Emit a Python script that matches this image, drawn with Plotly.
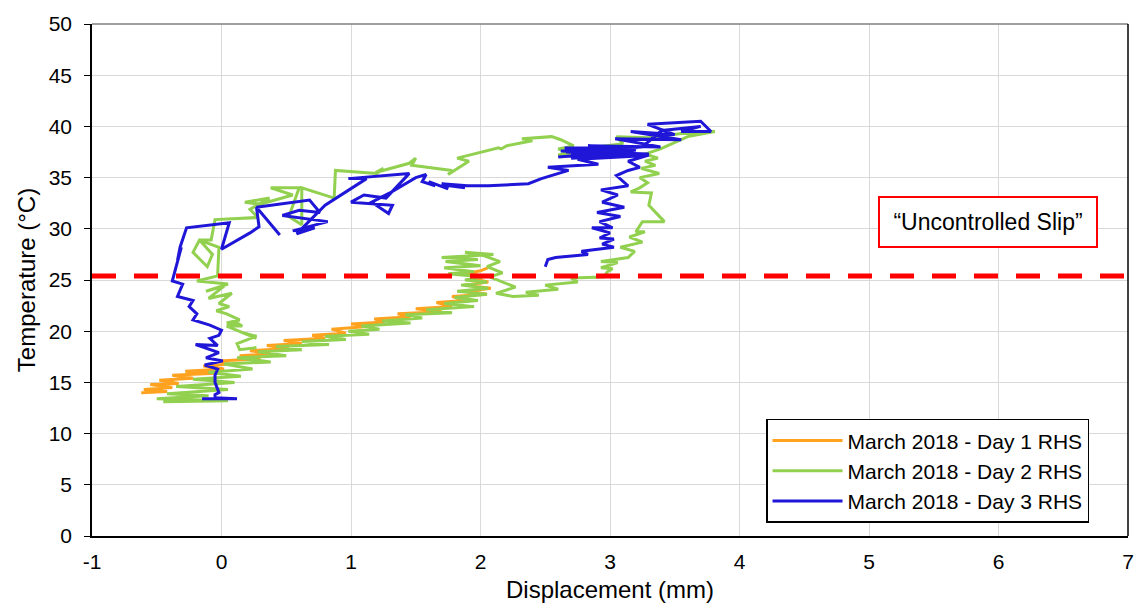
import plotly.graph_objects as go

# Day 1 RHS: displacement (mm) and temperature (°C) readings
day1_disp = [-0.62, -0.42, -0.60, -0.38, -0.55, -0.33, -0.48, -0.22, -0.38, -0.05,
             -0.28, 0.02, -0.14, 0.06, -0.02, 0.30, 0.14, 0.38, 0.22, 0.52,
             0.35, 0.62, 0.48, 0.80, 0.70, 0.96, 0.85, 1.18, 1.00, 1.26,
             1.18, 1.46, 1.36, 1.70, 1.50, 1.78, 1.66, 1.88, 1.78, 2.05,
             1.90, 2.08, 1.88, 2.06, 1.92, 2.03, 1.88, 2.00, 2.06]
day1_temp = [14.0, 14.1, 14.3, 14.5, 14.8, 14.9, 15.2, 15.4, 15.7, 15.9,
             16.1, 16.3, 16.6, 16.8, 17.1, 17.3, 17.6, 17.8, 18.1, 18.3,
             18.6, 18.8, 19.1, 19.3, 19.6, 19.8, 20.2, 20.5, 20.7, 20.9,
             21.2, 21.4, 21.7, 21.9, 22.2, 22.4, 22.8, 23.0, 23.4, 23.6,
             23.9, 24.2, 24.5, 24.8, 25.2, 25.4, 25.6, 25.9, 26.2]

# Day 2 RHS
day2_disp = [-0.45, 0.05, -0.50, -0.10, -0.42, 0.05, -0.35, 0.10, -0.22, 0.15,
             -0.10, 0.24, 0.02, 0.38, 0.12, 0.50, 0.28, 0.62, 0.42, 0.83,
             0.62, 0.96, 0.80, 1.14, 0.98, 1.22, 1.08, 1.46, 1.24, 1.55,
             1.42, 1.78, 1.58, 1.95, 1.72, 1.98, 1.80, 2.05, 1.82, 2.06,
             1.85, 2.05, 1.88, 2.02, 1.75, 1.95, 1.72, 2.00, 1.73, 1.98,
             1.70, 2.10, 1.88, 2.02, 2.15, 2.05, 2.17, 2.07, 2.27, 2.12,
             2.25, 2.45, 2.35, 2.60, 2.50, 2.75, 2.70, 2.95, 2.98, 3.02,
             2.93, 3.06, 2.93, 3.14, 3.19, 3.08, 3.25, 3.15, 3.27, 3.20,
             3.25, 3.42, 3.30, 3.32, 3.16, 3.23, 3.29, 3.23, 3.38, 3.24,
             3.35, 3.27, 3.37, 3.27, 3.39, 3.50, 3.60, 3.81, 3.55, 3.30,
             3.05, 3.10, 2.90, 2.75, 2.60, 2.75, 2.60, 2.72, 2.62, 2.55,
             2.32, 2.40, 2.20, 2.16, 2.14, 1.82, 1.91, 1.75, 1.78, 1.47,
             1.50, 1.45, 1.19, 1.25, 1.20, 0.88, 0.87, 0.62, 0.62, 0.52,
             0.60, 0.38, 0.55, 0.30, 0.18, 0.37, 0.22, 0.28, -0.05, -0.08,
             -0.17, -0.22, -0.11, -0.07, -0.17, -0.02, -0.03, -0.19, 0.05, -0.12,
             0.02, -0.10, 0.08, -0.02, 0.06, -0.04, 0.04, 0.14, 0.04, 0.12,
             0.16, 0.04, 0.27, 0.18, 0.27, 0.12, 0.14, 0.27]
day2_temp = [13.1, 13.2, 13.4, 13.7, 13.9, 14.3, 14.6, 15.0, 15.3, 15.6,
             16.0, 16.3, 16.8, 17.0, 17.4, 17.6, 18.0, 18.2, 18.5, 18.7,
             19.0, 19.2, 19.5, 19.7, 20.0, 20.2, 20.5, 20.8, 21.0, 21.3,
             21.6, 21.8, 22.1, 22.4, 22.7, 23.0, 23.3, 23.6, 23.9, 24.2,
             24.5, 24.8, 25.0, 25.3, 25.6, 25.8, 26.2, 26.4, 26.8, 27.0,
             27.2, 27.5, 27.7, 27.4, 26.8, 26.3, 25.7, 25.3, 24.3, 23.7,
             23.4, 23.5, 23.8, 24.1, 24.5, 24.8, 25.2, 25.3, 25.8, 26.1,
             26.2, 26.7, 26.8, 27.2, 27.8, 28.2, 28.7, 29.2, 29.7, 29.7,
             30.7, 30.7, 32.3, 33.5, 33.6, 34.0, 34.5, 35.0, 35.4, 35.9,
             36.2, 36.6, 36.9, 37.3, 37.8, 38.4, 39.0, 39.5, 39.3, 38.9,
             39.0, 38.3, 38.0, 37.6, 37.2, 37.1, 37.8, 38.1, 38.7, 39.0,
             38.8, 38.6, 38.1, 37.8, 37.9, 36.9, 36.6, 35.3, 35.7, 36.2,
             36.9, 36.4, 35.5, 35.9, 35.4, 35.7, 33.0, 34.0, 30.4, 31.2,
             34.0, 34.0, 33.3, 32.4, 32.6, 33.0, 31.9, 31.1, 30.9, 28.9,
             28.9, 27.7, 26.3, 27.5, 28.9, 28.2, 25.4, 24.9, 24.6, 23.9,
             24.4, 23.2, 23.7, 22.7, 22.4, 22.0, 21.7, 21.1, 20.8, 20.8,
             20.5, 20.5, 19.3, 19.8, 19.5, 18.8, 18.2, 18.4]

# Day 3 RHS
day3_disp = [-0.15, 0.12, -0.05, -0.05, -0.02, -0.05, -0.05, -0.03, -0.13, 0.01,
             -0.12, -0.02, -0.20, -0.03, -0.09, -0.02, 0.00, -0.09, -0.22, -0.19,
             -0.25, -0.22, -0.34, -0.30, -0.38, -0.31, -0.34, -0.32, -0.27, 0.06,
             0.00, 0.22, 0.29, 0.27, 0.45, 0.27, 0.68, 0.76, 0.60, 0.47,
             0.82, 0.55, 0.72, 0.58, 0.80, 1.12, 0.98, 1.45, 1.42, 1.27,
             1.10, 1.00, 1.32, 1.29, 1.16, 1.30, 1.50, 1.58, 1.55, 1.65,
             1.60, 1.75, 1.70, 1.88, 1.70, 1.90, 2.06, 2.37, 2.47, 2.68,
             2.52, 2.91, 2.75, 3.22, 2.70, 3.19, 2.60, 3.10, 2.65, 3.25,
             2.70, 3.30, 2.62, 3.20, 2.75, 3.28, 2.66, 3.15,
             2.83, 3.39, 3.04, 3.55, 3.16, 3.50, 3.29, 3.70, 3.78, 3.55,
             3.70, 3.40, 3.25, 2.95, 3.30, 3.14, 3.23, 3.14, 3.05, 3.14,
             2.93, 3.06, 2.94, 3.11, 2.90, 3.08, 2.92, 3.02, 2.86, 3.00,
             2.92, 3.03, 2.94, 3.03, 2.78, 2.83, 2.58, 2.52, 2.50]
day3_temp = [13.4, 13.4, 13.5, 13.8, 14.0, 15.0, 15.7, 16.3, 16.7, 17.1,
             17.4, 17.9, 18.7, 18.6, 19.3, 19.6, 20.1, 20.6, 21.1, 21.7,
             22.4, 23.0, 23.4, 24.6, 24.9, 28.2, 26.9, 28.2, 30.1, 30.6,
             28.0, 29.6, 30.2, 32.1, 29.4, 32.1, 32.8, 31.6, 31.8, 31.3,
             30.7, 29.8, 30.1, 29.5, 32.3, 34.9, 34.9, 35.4, 35.0, 33.0,
             33.3, 32.6, 32.3, 31.5, 32.6, 33.5, 35.0, 35.3, 34.6, 34.2,
             34.6, 33.9, 34.3, 34.0, 34.4, 34.2, 34.2, 34.4, 34.9, 35.7,
             36.0, 36.3, 36.8, 37.1, 37.4, 37.8, 37.0, 37.5, 37.9, 38.0,
             36.9, 37.3, 37.6, 37.7, 36.8, 37.2, 37.5, 37.8,
             38.1, 38.0, 38.8, 38.7, 39.5, 39.2, 40.2, 40.5, 39.5, 39.5,
             40.0, 39.6, 38.0, 37.5, 37.2, 36.6, 36.0, 35.7, 35.2, 34.2,
             33.8, 33.3, 32.6, 32.1, 31.6, 31.2, 30.7, 30.1, 30.1, 29.6,
             29.1, 29.0, 28.5, 28.2, 27.8, 27.5, 27.2, 27.0, 26.3]

series_names = ["March 2018 - Day 1 RHS", "March 2018 - Day 2 RHS", "March 2018 - Day 3 RHS"]
series_colors = ["#FFA21F", "#92D050", "#1F16D8"]

slip_temp = 25.4
slip_label = "“Uncontrolled Slip”"

x_ticks = [-1, 0, 1, 2, 3, 4, 5, 6, 7]
x_tick_text = ["-1", "0", "1", "2", "3", "4", "5", "6", "7"]
y_ticks = [0, 5, 10, 15, 20, 25, 30, 35, 40, 45, 50]

FONT = "Liberation Sans, Arial, sans-serif"

fig = go.Figure()
for xs, ys, name, color in zip([day1_disp, day2_disp, day3_disp],
                               [day1_temp, day2_temp, day3_temp],
                               series_names, series_colors):
    fig.add_trace(go.Scatter(
        x=xs, y=ys, mode="lines", name=name,
        line=dict(color=color, width=3),
    ))

# slip threshold
fig.add_shape(type="line", xref="x", yref="y", x0=x_ticks[0], x1=x_ticks[-1],
              y0=slip_temp, y1=slip_temp,
              line=dict(color="#FF0000", width=5, dash="24px,18px"), layer="above")

# plot frame: top and right edges
fig.add_shape(type="line", xref="paper", yref="paper", x0=0, x1=1, y0=1, y1=1,
              line=dict(color="#7f7f7f", width=1.5))
fig.add_shape(type="line", xref="paper", yref="paper", x0=1, x1=1, y0=0, y1=1,
              line=dict(color="#000000", width=1.5))

fig.add_annotation(x=5.92, y=30.7, xref="x", yref="y", text=slip_label,
                   showarrow=False, font=dict(family=FONT, size=23, color="#000000"),
                   bgcolor="#FFFFFF", bordercolor="#FF0000", borderwidth=2,
                   borderpad=5, width=206, height=38)

fig.update_layout(
    width=1146, height=611,
    margin=dict(l=92, r=18, t=16, b=75),
    paper_bgcolor="#FFFFFF", plot_bgcolor="#FFFFFF",
    font=dict(family=FONT, size=21, color="#000000"),
    legend=dict(
        x=0.6506, y=0.229, xanchor="left", yanchor="top",
        bgcolor="#FFFFFF", bordercolor="#000000", borderwidth=1.5,
        font=dict(family=FONT, size=21, color="#000000"),
        itemwidth=70,
    ),
    showlegend=True,
)
fig.update_xaxes(
    range=[x_ticks[0], x_ticks[-1]], tickvals=x_ticks, ticktext=x_tick_text,
    showgrid=True, gridcolor="#D9D9D9", gridwidth=1,
    showline=True, linecolor="#000000", linewidth=1.5,
    ticks="", zeroline=False, ticklabelstandoff=6,
    title=dict(text="Displacement (mm)", font=dict(size=24), standoff=9),
    tickfont=dict(size=21),
)
fig.update_yaxes(
    range=[y_ticks[0], y_ticks[-1]], tickvals=y_ticks,
    showgrid=True, gridcolor="#D9D9D9", gridwidth=1,
    showline=True, linecolor="#000000", linewidth=1.5,
    ticks="outside", ticklen=6, tickcolor="#000000", zeroline=False,
    ticklabelstandoff=8,
    title=dict(text="Temperature (°C)", font=dict(size=24), standoff=6),
    tickfont=dict(size=21),
)

fig.write_html("out.html")
